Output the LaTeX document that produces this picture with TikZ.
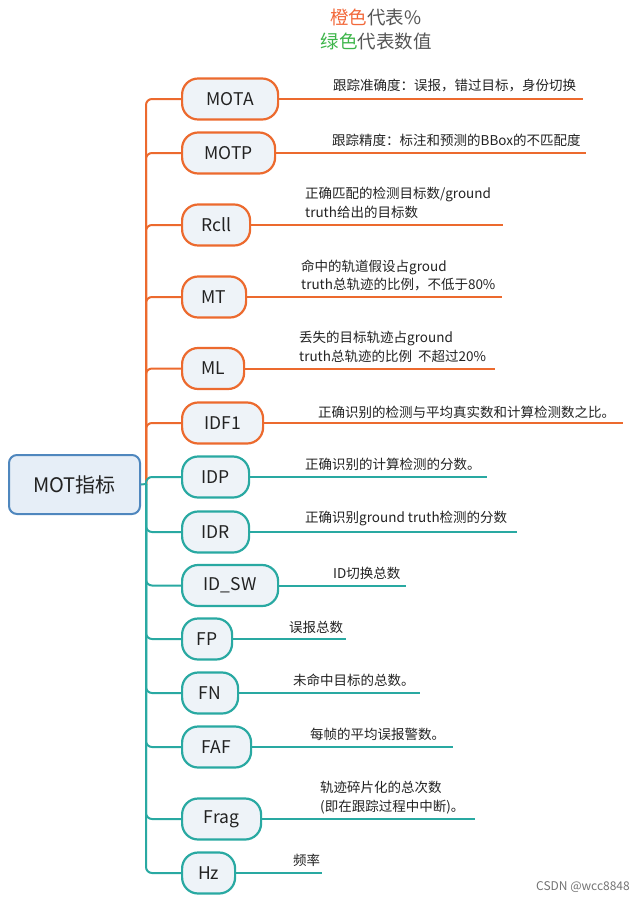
\documentclass[tikz,border=0pt]{standalone}
\usepackage{fontspec}
\setmainfont{Noto Sans CJK SC}
\definecolor{org}{HTML}{EC6A2E}
\definecolor{teal2}{HTML}{29A9A2}
\definecolor{nfill}{HTML}{EEF3F8}
\definecolor{rfill}{HTML}{E6EEF7}
\definecolor{rborder}{HTML}{4F87BE}
\definecolor{tgray}{HTML}{555555}
\definecolor{tgreen}{HTML}{3DB54A}
\definecolor{torange}{HTML}{F2683A}
\definecolor{ink}{HTML}{222222}
\tikzset{
  mnode/.style={draw, line width=2.2pt, fill=nfill, rounded corners=16pt, minimum height=41pt,
    anchor=west, inner sep=0pt, font=\fontsize{17.5}{17.5}\selectfont, text=ink},
  onode/.style={mnode, draw=org},
  tnode/.style={mnode, draw=teal2},
  oline/.style={draw=org, line width=2pt},
  tline/.style={draw=teal2, line width=2pt},
  obranch/.style={oline, rounded corners=6pt},
  tbranch/.style={tline, rounded corners=6pt},
  desc/.style={anchor=west, inner sep=0pt, font=\fontsize{13.5}{18.5}\selectfont, align=left, text=ink},
  titletext/.style={inner sep=0pt, font=\fontsize{18.5}{18.5}\selectfont, text=tgray},
  rootnode/.style={draw=rborder, line width=2pt, fill=rfill, rounded corners=8pt,
    minimum width=131pt, minimum height=59pt, inner sep=0pt, font=\fontsize{20}{20}\selectfont, text=ink}
}
\begin{document}
\begin{tikzpicture}[x=1pt,y=-1pt]
\useasboundingbox (0,0) rectangle (635,902);

% title
\node[titletext] (t1) at (376,17) {\textcolor{torange}{橙色}代表\%};
\node[titletext] (t2) at (376,41) {\textcolor{tgreen}{绿色}代表数值};

% root and hub
\node[rootnode] (root) at (74.5,484.5) {MOT指标};
\coordinate (hub) at (146,484);

% orange nodes
\node[onode, minimum width=96pt] (mota) at (181,99) {MOTA};
\node[onode, minimum width=93pt] (motp) at (181,153) {MOTP};
\node[onode, minimum width=68pt] (rcll) at (181,225) {Rcll};
\node[onode, minimum width=64pt] (mt) at (181,297) {MT};
\node[onode, minimum width=62pt] (ml) at (181,368.5) {ML};
\node[onode, minimum width=81pt] (idf) at (181,423) {IDF1};

% teal nodes
\node[tnode, minimum width=67pt] (idp) at (181,477) {IDP};
\node[tnode, minimum width=67pt] (idr) at (181,532) {IDR};
\node[tnode, minimum width=96pt] (idsw) at (181,585.5) {ID\_SW};
\node[tnode, minimum width=50pt] (fp) at (181,639) {FP};
\node[tnode, minimum width=56pt] (fn) at (181,693) {FN};
\node[tnode, minimum width=69pt] (faf) at (181,747) {FAF};
\node[tnode, minimum width=79pt] (frag) at (181,819) {Frag};
\node[tnode, minimum width=53pt] (hz) at (181,873) {Hz};

% branches from the trunk
\draw[obranch] (hub) |- (mota.west);
\draw[obranch] (hub) |- (motp.west);
\draw[obranch] (hub) |- (rcll.west);
\draw[obranch] (hub) |- (mt.west);
\draw[obranch] (hub) |- (ml.west);
\draw[obranch] (hub) |- (idf.west);
\draw[tbranch] (hub) |- (idp.west);
\draw[tbranch] (hub) |- (idr.west);
\draw[tbranch] (hub) |- (idsw.west);
\draw[tbranch] (hub) |- (fp.west);
\draw[tbranch] (hub) |- (fn.west);
\draw[tbranch] (hub) |- (faf.west);
\draw[tbranch] (hub) |- (frag.west);
\draw[tbranch] (hub) |- (hz.west);
\draw[tline] (root.east) -- (hub);

% underline end points
\coordinate (motaE) at (583,99);
\coordinate (motpE) at (586,153);
\coordinate (rcllE) at (503,225);
\coordinate (mtE) at (502,297);
\coordinate (mlE) at (495,368.5);
\coordinate (idfE) at (623,423);
\coordinate (idpE) at (487,477);
\coordinate (idrE) at (517,532);
\coordinate (idswE) at (406,585.5);
\coordinate (fpE) at (346,639);
\coordinate (fnE) at (420,693);
\coordinate (fafE) at (453,747);
\coordinate (fragE) at (475,819);
\coordinate (hzE) at (322,873);

\draw[oline] (mota.east) -- (motaE);
\draw[oline] (motp.east) -- (motpE);
\draw[oline] (rcll.east) -- (rcllE);
\draw[oline] (mt.east) -- (mtE);
\draw[oline] (ml.east) -- (mlE);
\draw[oline] (idf.east) -- (idfE);
\draw[tline] (idp.east) -- (idpE);
\draw[tline] (idr.east) -- (idrE);
\draw[tline] (idsw.east) -- (idswE);
\draw[tline] (fp.east) -- (fpE);
\draw[tline] (fn.east) -- (fnE);
\draw[tline] (faf.east) -- (fafE);
\draw[tline] (frag.east) -- (fragE);
\draw[tline] (hz.east) -- (hzE);

% descriptions
\node[desc] (motaT) at (333,86) {跟踪准确度：误报，错过目标，身份切换};
\node[desc] (motpT) at (332,140) {跟踪精度：标注和预测的BBox的不匹配度};
\node[desc] (rcllT) at (305,203) {正确匹配的检测目标数/ground\\truth给出的目标数};
\node[desc] (mtT) at (301,275.5) {命中的轨道假设占groud\\truth总轨迹的比例，不低于80\%};
\node[desc] (mlT) at (299,347) {丢失的目标轨迹占ground\\truth总轨迹的比例\ \ 不超过20\%};
\node[desc] (idfT) at (318,412) {正确识别的检测与平均真实数和计算检测数之比。};
\node[desc] (idpT) at (305,464) {正确识别的计算检测的分数。};
\node[desc] (idrT) at (305,518) {正确识别ground truth检测的分数};
\node[desc] (idswT) at (333,573) {ID切换总数};
\node[desc] (fpT) at (289,627) {误报总数};
\node[desc] (fnT) at (293,680) {未命中目标的总数。};
\node[desc] (fafT) at (310,734) {每帧的平均误报警数。};
\node[desc] (fragT) at (320,797.5) {轨迹碎片化的总次数\\(即在跟踪过程中中断)。};
\node[desc] (hzT) at (293,860) {频率};

% watermark
\node[anchor=east, inner sep=0pt, font=\fontsize{12}{12}\selectfont, text=black!55] (wm) at (630,887) {CSDN @wcc8848};
\end{tikzpicture}
\end{document}
